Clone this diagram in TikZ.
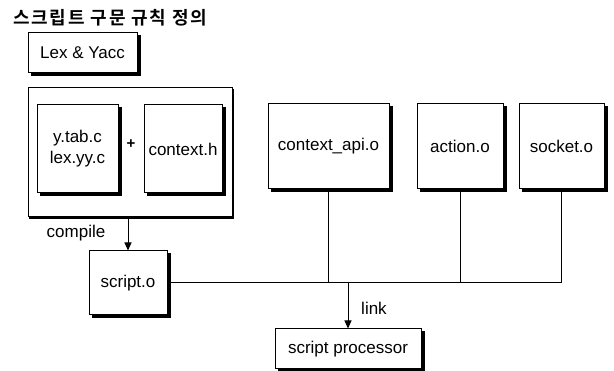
\documentclass[tikz,border=0pt]{standalone}
\usepackage{fontspec}
\setmainfont{Liberation Sans}
\newfontfamily\kofont{Noto Sans CJK KR}[BoldFont={* Bold}, LetterSpace=10]
\usetikzlibrary{arrows.meta}

\tikzset{
  lbl/.style={font=\fontsize{17}{19}\selectfont, inner sep=0pt},
  filebox/.style={draw=black, line width=1pt, fill=white, rectangle, inner sep=0pt,
    align=center, font=\fontsize{17}{21}\selectfont},
  wire/.style={draw=black, line width=1pt},
  arr/.style={wire, -{Triangle[width=7pt,length=8pt]}},
  shade strip/.style={fill=black, draw=none},
}
% solid shadow strips along the right and bottom edges of a named box
\newcommand\edgeshadow[2]{%
  \path[shade strip] ([shift={(0pt,-#2)}]#1.north east) rectangle ([shift={(#2,-#2)}]#1.south east);
  \path[shade strip] ([shift={(#2,0pt)}]#1.south west) rectangle ([shift={(#2,-#2)}]#1.south east);}

\begin{document}
\begin{tikzpicture}[x=1pt, y=-1pt]
  \useasboundingbox (0,0) rectangle (614,371);

  % heading
  \node[anchor=west, inner sep=0pt, font=\kofont\bfseries\fontsize{18}{20}\selectfont]
    (title) at (13,17.5) {스크립트 구문 규칙 정의};

  % Lex & Yacc stage
  \node[filebox, minimum width=109pt, minimum height=40pt] (lex) at (82.5,53) {Lex \& Yacc};
  \node[filebox, minimum width=204pt, minimum height=129pt] (grp) at (130,152.5) {};
  \node[filebox, minimum width=81pt, minimum height=88pt] (ytab) at (77.5,149) {y.tab.c\\lex.yy.c};
  \node[filebox, minimum width=78pt, minimum height=88pt] (ctxh) at (183,149) {context.h};
  \node[lbl, font=\bfseries\fontsize{15}{17}\selectfont] (plus) at (131,144) {+};

  % object files
  \node[filebox, minimum width=121pt, minimum height=85pt] (capi) at (328.5,146.5) {context\_api.o};
  \node[filebox, minimum width=86pt, minimum height=85pt] (act) at (460,146.5) {action.o};
  \node[filebox, minimum width=85pt, minimum height=85pt] (sock) at (561.5,146.5) {socket.o};

  \node[filebox, minimum width=78pt, minimum height=64pt] (scr) at (128,283) {script.o};
  \node[filebox, minimum width=146pt, minimum height=40pt] (proc) at (348,349) {script processor};

  % shadows
  \edgeshadow{grp}{1.6pt}
  \foreach \n in {lex,ytab,ctxh,capi,act,sock,scr,proc} {\edgeshadow{\n}{3pt}}

  % compile step
  \coordinate (gout) at (128,217);
  \draw[arr] (gout) -- (scr.north);
  \node[lbl] (compile) at (76,233) {compile};

  % link bus
  \coordinate (busend) at (sock.south |- scr.east);
  \draw[wire] (scr.east) -- (busend);
  \draw[wire] (capi.south) -- (capi.south |- scr.east);
  \draw[wire] (act.south) -- (act.south |- scr.east);
  \draw[wire] (sock.south) -- (busend);
  \draw[arr] (proc.north |- scr.east) -- (proc.north);
  \node[lbl] (link) at (374,308) {link};
\end{tikzpicture}
\end{document}
